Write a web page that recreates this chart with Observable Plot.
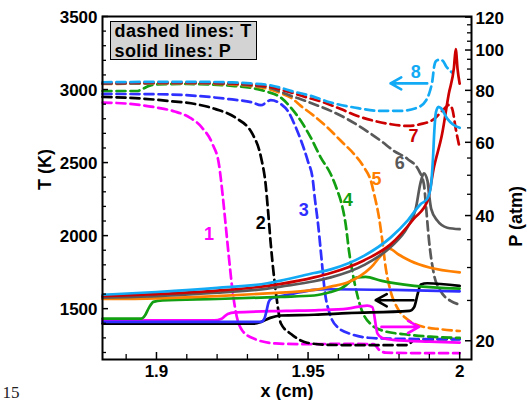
<!DOCTYPE html>
<html><head><meta charset="utf-8">
<script src="https://cdn.jsdelivr.net/npm/d3@7"></script>
<script src="https://cdn.jsdelivr.net/npm/@observablehq/plot@0.6"></script>
<style>
body{margin:0;background:#fff;}
#wrap{position:relative;width:527px;height:400px;overflow:hidden;}
#legend{position:absolute;left:110px;top:21px;width:145px;height:37px;background:#d3d3d3;border:1.5px solid #000;font:bold 18px "Liberation Sans",Arial,sans-serif;letter-spacing:0.4px;color:#000;}
#legend div{position:absolute;left:3.5px;line-height:20px;white-space:nowrap;}
</style></head>
<body><div id="wrap"><div id="chart"></div>
<div id="legend"><div style="top:-1.5px">dashed lines: T</div><div style="top:18.5px">solid lines: P</div></div></div>
<script>
// ---- data (x in cm, T in K, P in atm) ----
const T1 = [[1.8822,2911],[1.890,2904],[1.900,2877],[1.906,2850],[1.911,2808],[1.915,2740],[1.9185,2626],[1.9206,2489],[1.9218,2283],[1.9228,2078],[1.9239,1849],[1.9251,1621],[1.9261,1484],[1.9284,1347],[1.9327,1290],[1.9393,1262],[1.948,1257],[1.961,1259],[1.9716,1257],[1.9736,1215],[1.9756,1199],[1.985,1196],[2.0,1195]];
const T2 = [[1.8822,2950],[1.893,2941],[1.904,2922],[1.913,2900],[1.9195,2866],[1.926,2808],[1.9317,2694],[1.9345,2534],[1.936,2352],[1.9368,2169],[1.9377,1941],[1.9388,1712],[1.9399,1530],[1.941,1400],[1.9445,1325],[1.9497,1267],[1.957,1252],[1.970,1250],[1.9828,1251],[1.985,1285],[2.0,1293]];
const T3 = [[1.8822,2970],[1.900,2968],[1.913,2957],[1.924,2934],[1.9317,2911],[1.9344,2893],[1.9377,2927],[1.9411,2900],[1.9433,2854],[1.9455,2763],[1.9477,2649],[1.9499,2512],[1.9516,2375],[1.9522,2260],[1.9533,2078],[1.9544,1849],[1.9555,1621],[1.9572,1462],[1.9599,1370],[1.9643,1325],[1.9698,1301],[1.9764,1295],[2.0,1290]];
const T4 = [[1.8822,2990],[1.8935,2990],[1.8955,3005],[1.8975,3025],[1.900,3035],[1.910,3038],[1.925,3025],[1.9318,3009],[1.9365,2985],[1.941,2945],[1.9443,2877],[1.9476,2786],[1.9509,2671],[1.9542,2534],[1.9575,2420],[1.9597,2306],[1.9608,2238],[1.9624,2078],[1.9635,1895],[1.9652,1690],[1.9674,1507],[1.9707,1393],[1.975,1347],[1.9816,1325],[1.9904,1308],[2.0,1300]];
const T5 = [[1.8822,3038],[1.910,3042],[1.925,3034],[1.931,3024],[1.937,3004],[1.941,2975],[1.9443,2945],[1.9476,2888],[1.952,2819],[1.9564,2740],[1.9608,2649],[1.9652,2557],[1.9685,2466],[1.9707,2375],[1.9718,2283],[1.9734,2123],[1.9745,1964],[1.9756,1781],[1.9772,1621],[1.9794,1507],[1.9827,1427],[1.9871,1381],[1.9937,1359],[2.0,1347]];
const T6 = [[1.8822,3040],[1.910,3044],[1.925,3038],[1.931,3029],[1.937,3014],[1.941,2985],[1.9443,2957],[1.9476,2934],[1.952,2900],[1.9575,2854],[1.963,2797],[1.9684,2729],[1.974,2649],[1.9783,2580],[1.9828,2525],[1.9866,2443],[1.9882,2352],[1.9889,2199],[1.9899,1964],[1.9915,1736],[1.9937,1621],[1.997,1553],[2.0,1528]];
const T7 = [[1.8822,3045],[1.910,3048],[1.925,3042],[1.931,3034],[1.937,3020],[1.9443,2980],[1.9498,2945],[1.9553,2911],[1.9608,2866],[1.9663,2819],[1.9717,2786],[1.9772,2763],[1.9828,2751],[1.9871,2763],[1.9915,2797],[1.9948,2866],[1.9965,2895],[1.9975,2870],[1.9988,2720],[2.0,2600]];
const T8 = [[1.8822,3050],[1.910,3053],[1.925,3049],[1.931,3042],[1.937,3031],[1.941,3012],[1.9443,2991],[1.9509,2957],[1.9575,2911],[1.9652,2877],[1.974,2854],[1.9805,2854],[1.9861,2877],[1.9889,2925],[1.9902,2990],[1.991,3060],[1.9916,3160],[1.9922,3195],[1.9935,3205],[1.9945,3195],[1.9955,3160],[1.9976,3115]];

const P1 = [[1.8822,22.4],[1.919,22.4],[1.9215,22.6],[1.9235,23.2],[1.926,23.4],[1.9427,23.6],[1.9535,23.7],[1.963,23.9],[1.9695,24.3],[1.9712,24.1],[1.9729,20.8],[1.9745,20.3],[1.978,20.1],[1.990,19.9],[2.0,19.8]];
const P2 = [[1.8822,22.0],[1.932,22.0],[1.9345,22.2],[1.9375,22.7],[1.941,23.0],[1.952,23.1],[1.963,23.3],[1.9835,23.6],[1.985,24.1],[1.9862,26.0],[1.9872,27.3],[1.9893,27.5],[2.0,27.1]];
const P3 = [[1.8822,22.2],[1.9345,22.2],[1.9356,22.6],[1.9363,23.6],[1.937,24.8],[1.938,25.3],[1.940,25.5],[1.9455,26.0],[1.952,26.5],[1.9564,26.6],[1.9783,26.5],[2.0,26.3]];
const P4 = [[1.8822,22.6],[1.895,22.6],[1.8962,23.0],[1.8975,24.0],[1.899,24.8],[1.902,25.0],[1.920,25.2],[1.941,25.5],[1.952,25.7],[1.9575,26.2],[1.9608,26.7],[1.9663,28.4],[1.969,28.5],[1.974,27.9],[1.985,27.1],[2.0,26.7]];
const P5 = [[1.8822,25.2],[1.900,25.3],[1.920,25.6],[1.9366,26.0],[1.952,26.5],[1.9575,27.0],[1.963,27.6],[1.9707,30.0],[1.975,32.6],[1.9767,33.3],[1.980,32.2],[1.9838,31.1],[1.990,30.0],[2.0,29.2]];
const P6 = [[1.8822,25.4],[1.900,25.6],[1.920,26.1],[1.9366,26.7],[1.941,27.0],[1.952,27.8],[1.9575,28.4],[1.9684,30.4],[1.9772,33.6],[1.9828,37.5],[1.9855,41.5],[1.9871,48.0],[1.9882,50.5],[1.9894,48.4],[1.9899,45.0],[1.9906,41.5],[1.9926,38.9],[1.9959,37.4],[2.0,37.1]];
const P7 = [[1.8822,25.6],[1.900,25.9],[1.920,26.4],[1.9366,27.1],[1.941,27.4],[1.952,28.4],[1.9575,29.1],[1.9684,31.2],[1.9772,34.1],[1.9849,39.3],[1.9894,43.4],[1.9915,52.2],[1.9942,62.8],[1.9964,78.4],[1.9981,90.6],[1.9987,100.5],[1.9993,90.0],[2.0,83.0]];
const P8 = [[1.8822,25.8],[1.900,26.2],[1.920,26.8],[1.9366,27.5],[1.941,27.9],[1.952,29.1],[1.9575,29.7],[1.9684,32.0],[1.9772,35.4],[1.9828,38.9],[1.9871,42.6],[1.9894,44.0],[1.9905,47.0],[1.9912,55.0],[1.9917,65.0],[1.9922,71.0],[1.993,73.0],[1.9938,72.5],[1.9959,68.4],[1.9977,66.3],[2.0,65.0]];

const COLORS = ["#ff00ff","#000000","#2f2fff","#12a012","#ff8000","#595959","#cc0000","#12aaf5"];
const LABELS = ["1","2","3","4","5","6","7","8"];
const LABEL_X = [1.9173,1.9344,1.9486,1.9631,1.9726,1.9802,1.9848,1.9855];
const LABEL_T = [2010,2087,2173,2245,2386,2498,2683,3121];

const ARROWS = [
  {x1:1.9893, x2:1.9772, T:3042, color:"#12aaf5"},
  {x1:1.9848, x2:1.9723, T:1558, color:"#000000"},
  {x1:1.9742, x2:1.9866, T:1375, color:"#ff00ff"}
];

const X_DOMAIN = [1.8822, 2.0039];
const T_DOMAIN = [1152, 3500];
const P_DOMAIN = [18.03, 120.4];
const X_MAJOR = [1.9, 1.95, 2.0];
const X_LABELS = ["1.9", "1.95", "2"];
const X_MINOR = [1.89, 1.91, 1.92, 1.93, 1.94, 1.96, 1.97, 1.98, 1.99];
const T_MAJOR = [1500, 2000, 2500, 3000, 3500];
const T_MINOR = [1200,1300,1400,1600,1700,1800,1900,2100,2200,2300,2400,2600,2700,2800,2900,3100,3200,3300,3400];
const P_MAJOR = [20, 40, 60, 80, 100, 120];
const P_MINOR = [25,30,35,45,50,55,65,70,75,85,90,95,105,110,115];

// map pressure (log axis on the right) onto the temperature axis
const pToT = p => T_DOMAIN[0] + Math.log(p / P_DOMAIN[0]) / Math.log(P_DOMAIN[1] / P_DOMAIN[0]) * (T_DOMAIN[1] - T_DOMAIN[0]);

const W = 527, H = 400, mL = 102, mR = 56, mT = 16, mB = 41;
const plotW = W - mL - mR, plotH = H - mT - mB;
const TS = [T1,T2,T3,T4,T5,T6,T7,T8];
const PS = [P1,P2,P3,P4,P5,P6,P7,P8];

const marks = [];
TS.forEach((s, i) => marks.push(Plot.line(s, {x: d => d[0], y: d => d[1], stroke: COLORS[i], strokeWidth: 2.7, strokeDasharray: "9,5", curve: "monotone-x"})));
PS.forEach((s, i) => marks.push(Plot.line(s, {x: d => d[0], y: d => pToT(d[1]), stroke: COLORS[i], strokeWidth: 2.7, curve: "monotone-x"})));

marks.push(
  Plot.arrow(ARROWS, {x1: "x1", x2: "x2", y1: "T", y2: "T", stroke: "color", strokeWidth: 2.6, headLength: 15, headAngle: 58}),
  Plot.text(LABELS, {x: (d, i) => LABEL_X[i], y: (d, i) => LABEL_T[i], text: d => d, fill: (d, i) => COLORS[i], fontSize: 18, fontWeight: "bold"}),
  Plot.frame({stroke: "#000", strokeWidth: 2}),
  Plot.tickY(T_MAJOR, {y: d => d, insetRight: plotW - 6, stroke: "#000", strokeWidth: 1.5}),
  Plot.tickY(T_MINOR, {y: d => d, insetRight: plotW - 4, stroke: "#000", strokeWidth: 1.3}),
  Plot.tickY(P_MAJOR, {y: d => pToT(d), insetLeft: plotW - 6, stroke: "#000", strokeWidth: 1.5}),
  Plot.tickY(P_MINOR, {y: d => pToT(d), insetLeft: plotW - 4, stroke: "#000", strokeWidth: 1.3}),
  Plot.tickX(X_MAJOR, {x: d => d, insetTop: plotH - 7, stroke: "#000", strokeWidth: 1.5}),
  Plot.tickX(X_MINOR, {x: d => d, insetTop: plotH - 5, stroke: "#000", strokeWidth: 1.3}),
  Plot.text(T_MAJOR, {y: d => d, text: d => String(d), frameAnchor: "left", textAnchor: "end", dx: -5, dy: 1, fontSize: 17, fontWeight: "bold"}),
  Plot.text(P_MAJOR, {y: d => pToT(d), text: d => String(d), frameAnchor: "right", textAnchor: "start", dx: 4, dy: 1, fontSize: 17, fontWeight: "bold"}),
  Plot.text(X_MAJOR, {x: d => d, text: (d, i) => X_LABELS[i], frameAnchor: "bottom", lineAnchor: "top", dy: 5, fontSize: 17, fontWeight: "bold"}),
  Plot.text(["T (K)"], {frameAnchor: "left", rotate: -90, dx: -57, dy: 2, fontSize: 18, fontWeight: "bold"}),
  Plot.text(["P (atm)"], {frameAnchor: "right", rotate: -90, dx: 45, dy: -2, fontSize: 18, fontWeight: "bold"}),
  Plot.text(["x (cm)"], {frameAnchor: "bottom", lineAnchor: "bottom", dy: 37, fontSize: 18, fontWeight: "bold"}),
  Plot.text(["15"], {frameAnchor: "bottom-left", textAnchor: "start", lineAnchor: "bottom", dx: -100, dy: 38, fontSize: 17, fontWeight: "normal", fontFamily: "Liberation Serif, serif", fill: "#222"})
);

const chart = Plot.plot({
  width: W, height: H,
  marginLeft: mL, marginRight: mR, marginTop: mT, marginBottom: mB,
  x: {domain: X_DOMAIN, axis: null},
  y: {domain: T_DOMAIN, axis: null},
  style: {fontFamily: "'Liberation Sans', Arial, sans-serif", fontWeight: "bold", fontSize: "17px", background: "#fff", overflow: "visible"},
  marks
});
document.getElementById("chart").appendChild(chart);
</script>
</body></html>
